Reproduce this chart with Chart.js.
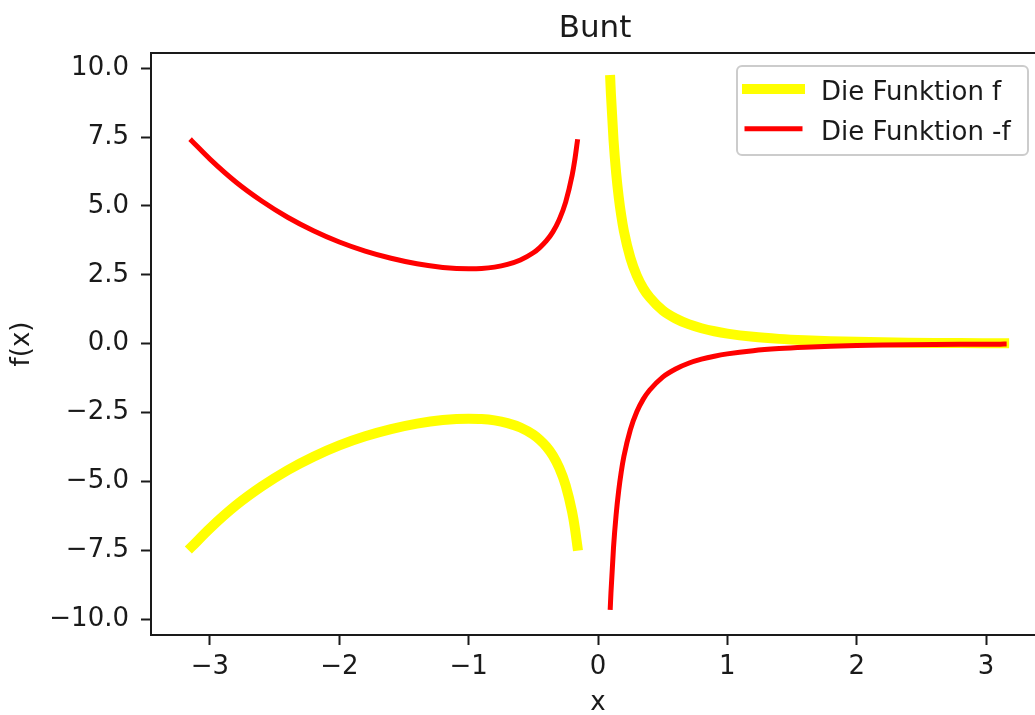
<!DOCTYPE html>
<html>
<head>
<meta charset="utf-8">
<title>Bunt</title>
<script src="https://cdn.jsdelivr.net/npm/chart.js@4"></script>
<style>
  html, body { margin: 0; padding: 0; overflow: hidden; background: #fff; }
  canvas { display: block; }
</style>
</head>
<body>
<!-- canvas is a bit wider than the window: the right spine sits just outside the view -->
<canvas id="chart" width="1060" height="715"></canvas>
<script>
const chartTitle = "Bunt";
const xLabel = "x";
const yLabel = "f(x)";
const seriesLabels = ["Die Funktion f", "Die Funktion -f"];

// x positions (gap at -0.04 breaks the line around the pole)
const xValues = [
  -3.14, -3.0, -2.8, -2.6, -2.4, -2.2, -2.0, -1.8, -1.6, -1.4, -1.2, -1.0,
  -0.9, -0.8, -0.7, -0.6, -0.5, -0.45, -0.4, -0.35, -0.3, -0.25, -0.2, -0.18, -0.16,
  -0.04,
  0.095, 0.1, 0.12, 0.14, 0.16, 0.18, 0.2, 0.25, 0.3, 0.35, 0.4, 0.5, 0.6, 0.7,
  0.8, 0.9, 1.0, 1.2, 1.4, 1.6, 1.8, 2.0, 2.2, 2.4, 2.6, 2.8, 3.0, 3.14
];

const fValues = [
  -7.36, -6.70, -5.87, -5.18, -4.59, -4.10, -3.69, -3.36, -3.10, -2.90, -2.77, -2.72,
  -2.73, -2.78, -2.88, -3.04, -3.30, -3.49, -3.73, -4.05, -4.50, -5.14, -6.11, -6.65, -7.33,
  null,
  9.57, 9.05, 7.39, 6.21, 5.33, 4.64, 4.09, 3.12, 2.47, 2.01, 1.68, 1.21, 0.915, 0.709,
  0.562, 0.452, 0.368, 0.251, 0.176, 0.126, 0.092, 0.068, 0.050, 0.038, 0.029, 0.022, 0.017, 0.014
];

const minusFValues = [
  7.36, 6.70, 5.87, 5.18, 4.59, 4.10, 3.69, 3.36, 3.10, 2.90, 2.77, 2.72,
  2.73, 2.78, 2.88, 3.04, 3.30, 3.49, 3.73, 4.05, 4.50, 5.14, 6.11, 6.65, 7.33,
  null,
  -9.57, -9.05, -7.39, -6.21, -5.33, -4.64, -4.09, -3.12, -2.47, -2.01, -1.68, -1.21, -0.915, -0.709,
  -0.562, -0.452, -0.368, -0.251, -0.176, -0.126, -0.092, -0.068, -0.050, -0.038, -0.029, -0.022, -0.017, -0.014
];

const xTicks = [-3, -2, -1, 0, 1, 2, 3];
const yTicks = [-10, -7.5, -5, -2.5, 0, 2.5, 5, 7.5, 10];

const textColor = "#1a1a1a";
Chart.defaults.font.family = "'DejaVu Sans', sans-serif";
Chart.defaults.color = textColor;

const minus = (s) => s.replace("-", "\u2212");

// title, top/right spines and a matplotlib style legend inside the axes
const axesDecor = {
  id: "axesDecor",
  afterDraw(chart) {
    const { ctx, chartArea } = chart;
    ctx.save();
    ctx.strokeStyle = textColor;
    ctx.lineWidth = 2;
    ctx.beginPath();
    ctx.moveTo(chartArea.left, chartArea.top);
    ctx.lineTo(chartArea.right, chartArea.top);
    ctx.lineTo(chartArea.right, chartArea.bottom);
    ctx.stroke();

    ctx.font = "31px 'DejaVu Sans'";
    ctx.fillStyle = textColor;
    ctx.textAlign = "center";
    ctx.textBaseline = "alphabetic";
    ctx.fillText(chartTitle, (chartArea.left + chartArea.right) / 2 - 3, 37);

    ctx.font = "26px 'DejaVu Sans'";
    const sets = chart.data.datasets;
    const right = chartArea.right - 17;
    const top = chartArea.top + 13;
    const left = right - 291;
    ctx.beginPath();
    ctx.roundRect(left, top, right - left, 89, 5);
    ctx.fillStyle = "rgba(255,255,255,0.8)";
    ctx.fill();
    ctx.strokeStyle = "#cccccc";
    ctx.lineWidth = 2;
    ctx.stroke();

    sets.forEach((d, i) => {
      const y = top + 23 + i * 39.7;
      ctx.beginPath();
      ctx.strokeStyle = d.borderColor;
      ctx.lineWidth = d.borderWidth;
      ctx.lineCap = "square";
      ctx.moveTo(left + 10, y);
      ctx.lineTo(left + 63, y);
      ctx.stroke();
      ctx.fillStyle = textColor;
      ctx.textAlign = "left";
      ctx.fillText(d.label, left + 84, y + 11);
    });
    ctx.restore();
  }
};

const toPoints = (ys) => xValues.map((x, i) => ({ x: x, y: ys[i] }));

new Chart(document.getElementById("chart"), {
  type: "line",
  data: {
    datasets: [
      {
        label: seriesLabels[0],
        data: toPoints(fValues),
        borderColor: "yellow",
        borderWidth: 10,
        borderCapStyle: "square",
        pointRadius: 0,
        cubicInterpolationMode: "monotone",
        spanGaps: false,
        order: 1
      },
      {
        label: seriesLabels[1],
        data: toPoints(minusFValues),
        borderColor: "red",
        borderWidth: 5,
        borderCapStyle: "square",
        pointRadius: 0,
        cubicInterpolationMode: "monotone",
        spanGaps: false,
        order: 0
      }
    ]
  },
  options: {
    responsive: false,
    animation: false,
    layout: { padding: { top: 53, right: 15, bottom: 0, left: 0 } },
    plugins: {
      legend: { display: false },
      title: { display: false },
      tooltip: { enabled: false }
    },
    scales: {
      x: {
        type: "linear",
        min: -3.456,
        max: 3.456,
        afterBuildTicks: (scale) => { scale.ticks = xTicks.map((v) => ({ value: v })); },
        afterFit: (scale) => { scale.height = 80; },
        ticks: {
          autoSkip: false,
          maxRotation: 0,
          padding: 7,
          font: { size: 26 },
          callback: (v) => minus(String(v))
        },
        grid: { drawOnChartArea: false, tickLength: 10, tickWidth: 2, tickColor: textColor },
        border: { color: textColor, width: 2 },
        title: { display: true, text: xLabel, font: { size: 26, lineHeight: 0.9 }, padding: 0 }
      },
      y: {
        min: -10.57,
        max: 10.55,
        afterBuildTicks: (scale) => { scale.ticks = yTicks.map((v) => ({ value: v })); },
        afterFit: (scale) => { scale.width = 151; },
        ticks: {
          autoSkip: false,
          padding: 12,
          font: { size: 26 },
          callback: (v) => minus(v.toFixed(1))
        },
        grid: { drawOnChartArea: false, tickLength: 10, tickWidth: 2, tickColor: textColor },
        border: { color: textColor, width: 2 },
        title: { display: true, text: yLabel, font: { size: 26, lineHeight: 1 }, padding: { top: 9, bottom: 0 } }
      }
    }
  },
  plugins: [axesDecor]
});
</script>
</body>
</html>
